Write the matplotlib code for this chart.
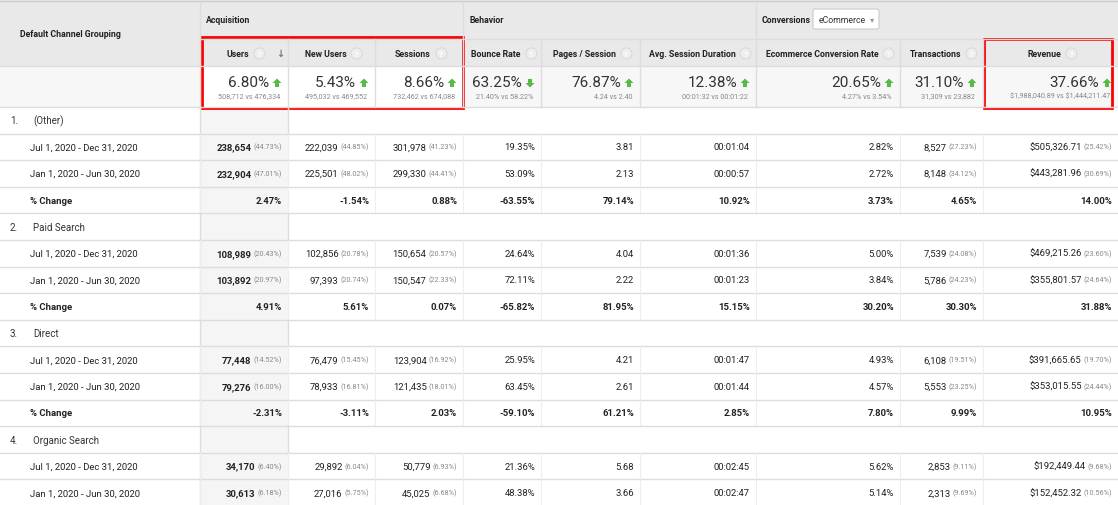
import matplotlib.pyplot as plt
from matplotlib.patches import Rectangle, FancyBboxPatch, Polygon

plt.rcParams['font.family'] = ['Roboto', 'DejaVu Sans']

metrics = ["Users", "New Users", "Sessions", "Bounce Rate", "Pages / Session",
           "Avg. Session Duration", "Ecommerce Conversion Rate", "Transactions", "Revenue"]
summary_pct = ["6.80%", "5.43%", "8.66%", "63.25%", "76.87%", "12.38%", "20.65%", "31.10%", "37.66%"]
summary_up = [True, True, True, False, True, True, True, True, True]
summary_vs = ["508,712 vs 476,334", "495,032 vs 469,552", "732,462 vs 674,088",
              "21.40% vs 58.22%", "4.24 vs 2.40", "00:01:32 vs 00:01:22",
              "4.27% vs 3.54%", "31,309 vs 23,882", r"\$1,988,040.89 vs \$1,444,211.47"]

channels = ["(Other)", "Paid Search", "Direct", "Organic Search"]
period_labels = ["Jul 1, 2020 - Dec 31, 2020", "Jan 1, 2020 - Jun 30, 2020"]

# each row: list of (value, share) per metric
rows = {
    "(Other)": [
        [("238,654", "44.73%"), ("222,039", "44.85%"), ("301,978", "41.23%"), ("19.35%", ""), ("3.81", ""),
         ("00:01:04", ""), ("2.82%", ""), ("8,527", "27.23%"), ("$505,326.71", "25.42%")],
        [("232,904", "47.01%"), ("225,501", "48.02%"), ("299,330", "44.41%"), ("53.09%", ""), ("2.13", ""),
         ("00:00:57", ""), ("2.72%", ""), ("8,148", "34.12%"), ("$443,281.96", "30.69%")],
        ["2.47%", "-1.54%", "0.88%", "-63.55%", "79.14%", "10.92%", "3.73%", "4.65%", "14.00%"],
    ],
    "Paid Search": [
        [("108,989", "20.43%"), ("102,856", "20.78%"), ("150,654", "20.57%"), ("24.64%", ""), ("4.04", ""),
         ("00:01:36", ""), ("5.00%", ""), ("7,539", "24.08%"), ("$469,215.26", "23.60%")],
        [("103,892", "20.97%"), ("97,393", "20.74%"), ("150,547", "22.33%"), ("72.11%", ""), ("2.22", ""),
         ("00:01:23", ""), ("3.84%", ""), ("5,786", "24.23%"), ("$355,801.57", "24.64%")],
        ["4.91%", "5.61%", "0.07%", "-65.82%", "81.95%", "15.15%", "30.20%", "30.30%", "31.88%"],
    ],
    "Direct": [
        [("77,448", "14.52%"), ("76,479", "15.45%"), ("123,904", "16.92%"), ("25.95%", ""), ("4.21", ""),
         ("00:01:47", ""), ("4.93%", ""), ("6,108", "19.51%"), ("$391,665.65", "19.70%")],
        [("79,276", "16.00%"), ("78,933", "16.81%"), ("121,435", "18.01%"), ("63.45%", ""), ("2.61", ""),
         ("00:01:44", ""), ("4.57%", ""), ("5,553", "23.25%"), ("$353,015.55", "24.44%")],
        ["-2.31%", "-3.11%", "2.03%", "-59.10%", "61.21%", "2.85%", "7.80%", "9.99%", "10.95%"],
    ],
    "Organic Search": [
        [("34,170", "6.40%"), ("29,892", "6.04%"), ("50,779", "6.93%"), ("21.36%", ""), ("5.68", ""),
         ("00:02:45", ""), ("5.62%", ""), ("2,853", "9.11%"), ("$192,449.44", "9.68%")],
        [("30,613", "6.18%"), ("27,016", "5.75%"), ("45,025", "6.68%"), ("48.38%", ""), ("3.66", ""),
         ("00:02:47", ""), ("5.14%", ""), ("2,313", "9.69%"), ("$152,452.32", "10.56%")],
    ],
}

W, H = 1118, 506
col_x = [0, 200, 288, 375, 463, 541, 640, 756, 900, 983, 1118]
GRID = "#dddddd"
HEAD = "#e9e9e9"

fig = plt.figure(figsize=(W / 100, H / 100), dpi=100)
ax = fig.add_axes([0, 0, 1, 1])
ax.set_xlim(0, W)
ax.set_ylim(H, 0)
ax.axis("off")
renderer = fig.canvas.get_renderer()

def width_px(t):
    # text width in data units (1 unit = 1 px)
    return t.get_window_extent(renderer).width

def rect(x0, y0, x1, y1, fc, ec="none", lw=1):
    ax.add_patch(Rectangle((x0, y0), x1 - x0, y1 - y0, fc=fc, ec=ec, lw=lw))

def arrow(x, y, up=True, s=4.5):
    d = -1 if up else 1
    pts = [(x - s, y), (x, y + d * s), (x + s, y), (x + s * 0.45, y), (x + s * 0.45, y - d * s * 0.9),
           (x - s * 0.45, y - d * s * 0.9), (x - s * 0.45, y)]
    ax.add_patch(Polygon(pts, closed=True, fc="#58b947", ec="none"))

# header backgrounds
rect(0, 0, W, 67, HEAD)
rect(0, 67, W, 108, "#f7f7f7")
rect(200, 67, 463, 108, "white")
ax.plot([0, W], [2, 2], color="#cccccc", lw=1)
ax.plot([200, W], [40, 40], color=GRID, lw=1)
ax.plot([0, W], [67, 67], color=GRID, lw=1)
ax.plot([0, W], [108, 108], color=GRID, lw=1)
for x in col_x[1:-1]:
    top = 0 if x in (200, 463, 756) else 40
    ax.plot([x, x], [top, 108], color=GRID, lw=1)

ax.text(20, 34, "Default Channel Grouping", fontsize=6.3, fontweight="bold", va="center", color="#222222")
ax.text(206, 20, "Acquisition", fontsize=6.3, fontweight="bold", va="center", color="#222222")
ax.text(469, 20, "Behavior", fontsize=6.3, fontweight="bold", va="center", color="#222222")
ax.text(762, 20, "Conversions", fontsize=6.3, fontweight="bold", va="center", color="#222222")
ax.add_patch(FancyBboxPatch((813, 10), 66, 20, boxstyle="round,pad=0,rounding_size=2",
                            fc="white", ec="#cccccc", lw=0.8))
ax.text(819, 20, "eCommerce", fontsize=6.3, va="center", color="#333333")
ax.text(870, 20, "▾", fontsize=6, va="center", color="#999999")

for i, m in enumerate(metrics):
    x0, x1 = col_x[i + 1], col_x[i + 2]
    cx = (x0 + x1) / 2
    t = ax.text(cx - 6, 54, m, fontsize=6.3, fontweight="bold", ha="center", va="center", color="#222222")
    qx = cx - 6 + width_px(t) / 2 + 10
    ax.plot(qx, 54, "o", ms=8, mfc="#eeeeee", mec="#d5d5d5", mew=0.6)
    ax.text(qx, 54, "?", fontsize=5.5, ha="center", va="center", color="white", fontweight="bold")
    ax.text(x1 - 19, 83, summary_pct[i], fontsize=11, ha="right", va="center", color="#333333")
    arrow(x1 - 11, 84, summary_up[i])
    ax.text(x1 - 8, 97, summary_vs[i], fontsize=5.2, ha="right", va="center", color="#888888")
ax.text(280, 54, "↓", fontsize=7, ha="center", va="center", color="#777777", fontweight="bold")

# body
y = 108
RH = 26.6
for n, ch in enumerate(channels):
    data = rows[ch]
    nrows = 1 + len(data)
    rect(200, y, 288, y + nrows * RH, "#f5f5f5")
    ax.plot([200, 200], [y, y + nrows * RH], color=GRID, lw=1)
    ax.plot([288, 288], [y, y + RH], color=GRID, lw=1)
    ax.text(10, y + RH / 2, f"{n + 1}.", fontsize=7, va="center", color="#333333")
    ax.text(33, y + RH / 2, ch, fontsize=7, va="center", color="#333333")
    ax.plot([0, W], [y + RH, y + RH], color=GRID, lw=1)
    y += RH
    for r, vals in enumerate(data):
        yc = y + RH / 2
        bold = r == 2
        label = "% Change" if bold else period_labels[r]
        ax.text(30, yc, label, fontsize=6.8, va="center", color="#222222",
                fontweight="bold" if bold else "normal")
        for i, v in enumerate(vals):
            x1 = col_x[i + 2] - 6
            if bold:
                ax.text(x1, yc, v, fontsize=6.8, fontweight="bold", ha="right", va="center", color="#222222")
            else:
                val, share = v
                off = 0
                if share:
                    t = ax.text(x1, yc, f"({share})", fontsize=5.2, ha="right", va="center", color="#888888")
                    off = width_px(t) + 2
                ax.text(x1 - off, yc, val.replace("$", r"\$"), fontsize=6.8, ha="right", va="center",
                        color="#222222", fontweight="bold" if i == 0 else "normal")
        for x in col_x[1:-1]:
            ax.plot([x, x], [y, y + RH], color="#eeeeee", lw=0.8)
        ax.plot([0, W], [y + RH, y + RH], color=GRID, lw=1)
        y += RH

# red highlight boxes
ax.add_patch(Rectangle((202, 38), 261, 71, fill=False, ec="#ff0000", lw=2))
ax.add_patch(Rectangle((984, 40), 128, 69, fill=False, ec="#ff0000", lw=2))

fig.savefig("out.png", dpi=100)
